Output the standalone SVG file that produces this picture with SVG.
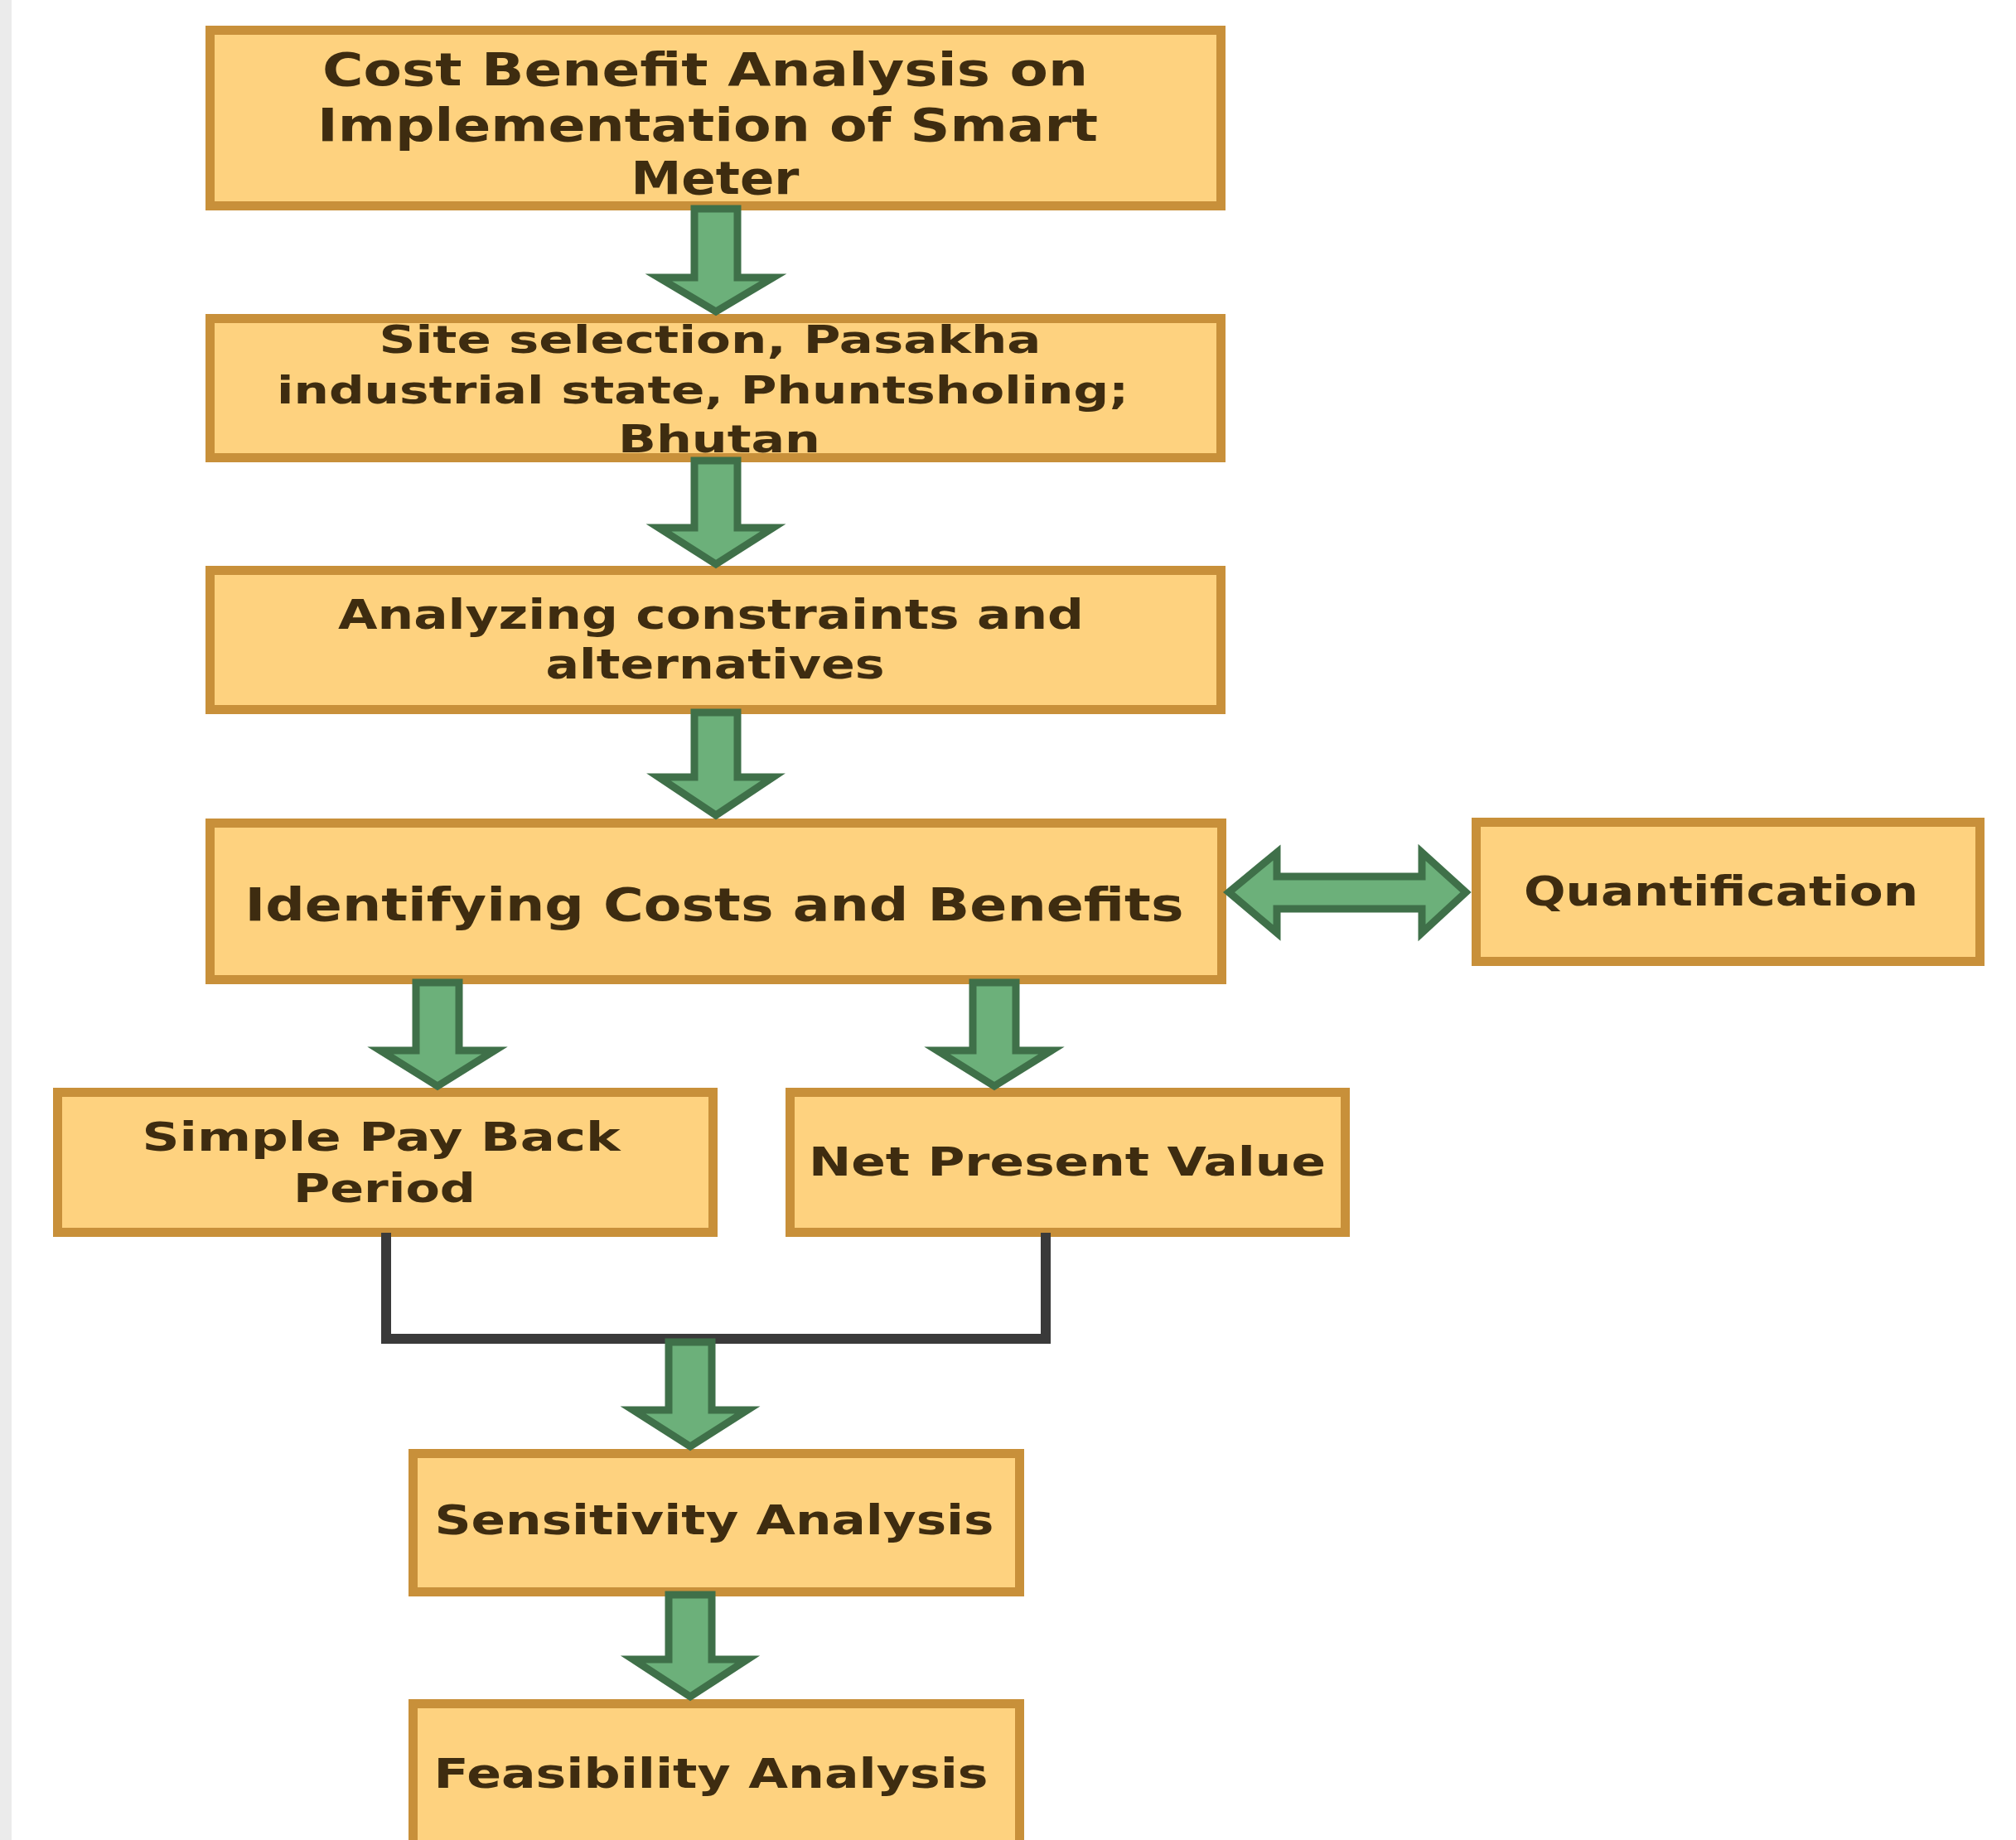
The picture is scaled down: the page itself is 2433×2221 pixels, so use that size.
<svg xmlns="http://www.w3.org/2000/svg" width="2433" height="2221" viewBox="0 0 2433 2221">
<defs>
<style>
.box{fill:#fed27f;stroke:#c8903a;stroke-width:11}
.t{font-family:"DejaVu Sans","Liberation Sans",sans-serif;font-weight:bold;fill:#3e2c10;text-anchor:middle}
.arr{fill:#6cb07a;stroke:#3f7049;stroke-width:9;stroke-linejoin:miter}
.line{fill:none;stroke:#3a3a3a;stroke-width:12;stroke-linecap:square}
</style>
</defs>
<rect x="0" y="0" width="2433" height="2221" fill="#ffffff"/>
<rect x="0" y="0" width="14" height="2221" fill="#ebebeb"/>

<g id="n1">
<rect class="box" x="253.5" y="36.5" width="1220" height="212"/>
<text class="t" font-size="56" x="851" y="103" textLength="924" lengthAdjust="spacingAndGlyphs">Cost Benefit Analysis on</text>
<text class="t" font-size="56" x="854" y="170" textLength="942" lengthAdjust="spacingAndGlyphs">Implementation of Smart</text>
<text class="t" font-size="56" x="863" y="234" textLength="203" lengthAdjust="spacingAndGlyphs">Meter</text>
</g>
<g id="n2">
<rect class="box" x="253.5" y="384.5" width="1220" height="168"/>
<text class="t" font-size="46" x="857" y="426" textLength="799" lengthAdjust="spacingAndGlyphs">Site selection, Pasakha</text>
<text class="t" font-size="46" x="848" y="487" textLength="1028" lengthAdjust="spacingAndGlyphs">industrial state, Phuntsholing;</text>
<text class="t" font-size="46" x="868" y="546" textLength="244" lengthAdjust="spacingAndGlyphs">Bhutan</text>
</g>
<g id="n3">
<rect class="box" x="253.5" y="688.5" width="1220" height="168"/>
<text class="t" font-size="50" x="858" y="759" textLength="900" lengthAdjust="spacingAndGlyphs">Analyzing constraints and</text>
<text class="t" font-size="50" x="863" y="819" textLength="409" lengthAdjust="spacingAndGlyphs">alternatives</text>
</g>
<g id="n4">
<rect class="box" x="253.5" y="993.5" width="1221" height="189"/>
<text class="t" font-size="55" x="862" y="1111" textLength="1133" lengthAdjust="spacingAndGlyphs">Identifying Costs and Benefits</text>
</g>
<g id="n5">
<rect class="box" x="1781.5" y="992.5" width="608" height="168"/>
<text class="t" font-size="50" x="2077" y="1093" textLength="476" lengthAdjust="spacingAndGlyphs">Quantification</text>
</g>
<g id="n6">
<rect class="box" x="69.5" y="1318.5" width="791" height="169"/>
<text class="t" font-size="48" x="460" y="1389" textLength="577" lengthAdjust="spacingAndGlyphs">Simple Pay Back</text>
<text class="t" font-size="48" x="464" y="1451" textLength="220" lengthAdjust="spacingAndGlyphs">Period</text>
</g>
<g id="n7">
<rect class="box" x="953.5" y="1318.5" width="670" height="169"/>
<text class="t" font-size="48" x="1288" y="1419" textLength="624" lengthAdjust="spacingAndGlyphs">Net Present Value</text>
</g>
<g id="n8">
<rect class="box" x="498.5" y="1754.5" width="732" height="167"/>
<text class="t" font-size="49" x="862" y="1852" textLength="675" lengthAdjust="spacingAndGlyphs">Sensitivity Analysis</text>
</g>
<g id="n9">
<rect class="box" x="498.5" y="2056.5" width="732" height="200"/>
<text class="t" font-size="49" x="858" y="2158" textLength="669" lengthAdjust="spacingAndGlyphs">Feasibility Analysis</text>
</g>

<g id="connectors">
<polyline class="line" points="466,1494 466,1616 1262,1616 1262,1494"/>
<polygon class="arr" points="838,252 890,252 890,335 933,335 864,376 795,335 838,335"/>
<polygon class="arr" points="838,556 890,556 890,637 933,637 864,681 795,637 838,637"/>
<polygon class="arr" points="838,860 890,860 890,938 933,938 864,984 795,938 838,938"/>
<polygon class="arr" points="502,1186 554,1186 554,1268 597,1268 528,1311 459,1268 502,1268"/>
<polygon class="arr" points="1174,1186 1226,1186 1226,1268 1269,1268 1200,1311 1131,1268 1174,1268"/>
<polygon class="arr" points="807,1620 859,1620 859,1702 902,1702 833,1746 764,1702 807,1702"/>
<polygon class="arr" points="807,1925 859,1925 859,2003 902,2003 833,2048 764,2003 807,2003"/>
<polygon class="arr" points="1483,1077 1541,1029 1541,1058 1716,1058 1716,1029 1769,1077 1716,1126 1716,1097 1541,1097 1541,1126"/>
</g>
</svg>
